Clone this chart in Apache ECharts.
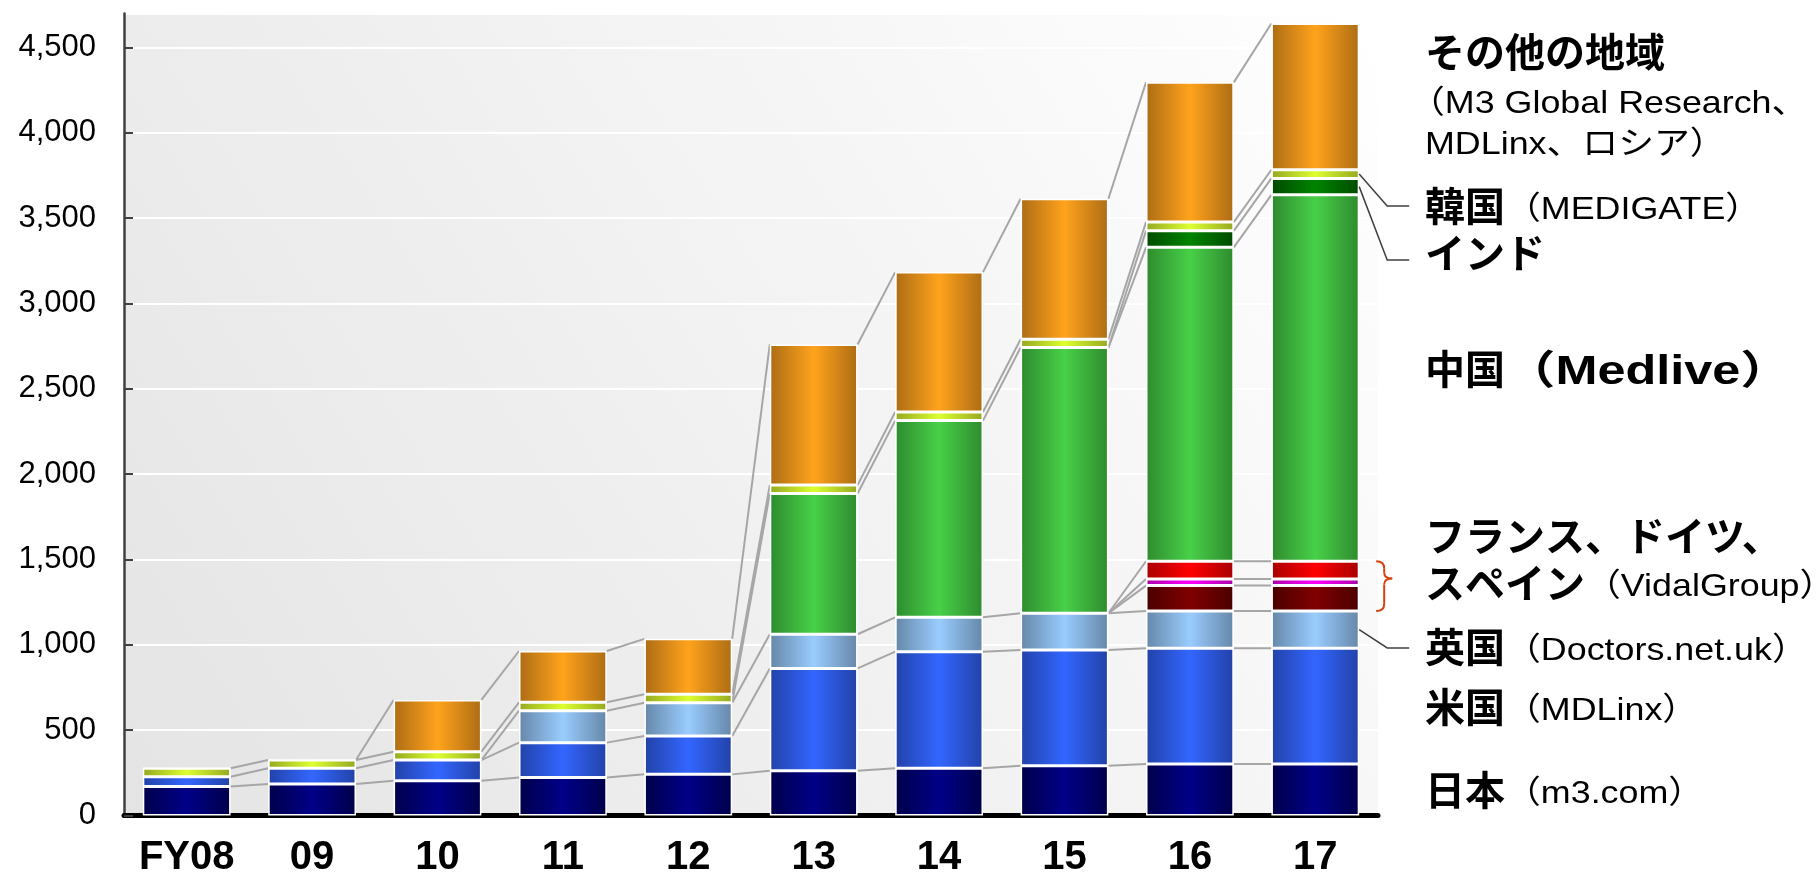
<!DOCTYPE html>
<html>
<head>
<meta charset="utf-8">
<script src="https://cdn.jsdelivr.net/npm/echarts@6/dist/echarts.min.js"></script>
<style>
html,body{margin:0;padding:0;background:#fff;}
#c{width:1820px;height:873px;}
</style>
</head>
<body>
<div id="c"></div>
<script>
// ---- data ----
const categories = ['FY08','09','10','11','12','13','14','15','16','17'];
const japan      = [170, 185, 204, 222, 241, 262, 277, 292, 302, 302];
const usa        = [57,  92,  121, 205, 225, 600, 683, 678, 678, 678];
const uk         = [0,   0,   0,   187, 195, 200, 201, 215, 219, 219];
const vidalDark  = [0,   0,   0,   0,   0,   0,   0,   0,   148, 148];
const vidalMag   = [0,   0,   0,   0,   0,   0,   0,   0,   39,  39];
const vidalRed   = [0,   0,   0,   0,   0,   0,   0,   0,   104, 104];
const china      = [0,   0,   0,   0,   0,   825, 1153,1557,1839,2147];
const india      = [0,   0,   0,   0,   0,   0,   0,   0,   97,  96];
const korea      = [50,  48,  49,  49,  49,  49,  50,  49,  51,  51];
const other      = [0,   0,   303, 301, 325, 824, 820, 823, 819, 857];
const yTicks = {min: 0, max: 4700, interval: 500};

// right-hand labels: pieces of bold (b) / normal (n) text
const labelLines = [
  {y: 56,  p: [['その他の地域', 'b']]},
  {y: 104, dx: -16, p: [['（M3 Global Research、', 'n']]},
  {y: 145, p: [['MDLinx、ロシア）', 'n']]},
  {y: 210, p: [['韓国', 'b'], ['（MEDIGATE）', 'n']]},
  {y: 257, p: [['インド', 'b']]},
  {y: 373, p: [['中国', 'b'], ['（Medlive）', 'bw']]},
  {y: 540, p: [['フランス、ドイツ、', 'b']]},
  {y: 587, p: [['スペイン', 'b'], ['（VidalGroup）', 'n']]},
  {y: 651, p: [['英国', 'b'], ['（Doctors.net.uk）', 'n']]},
  {y: 711, p: [['米国', 'b'], ['（MDLinx）', 'n']]},
  {y: 794, p: [['日本', 'b'], ['（m3.com）', 'n']]}
];

const layers = [
  {name: '日本（m3.com）', data: japan, edge: '#00004a', mid: '#000088'},
  {name: '米国（MDLinx）', data: usa, edge: '#2242a8', mid: '#3366ff'},
  {name: '英国（Doctors.net.uk）', data: uk, edge: '#6687a8', mid: '#99ccff'},
  {name: 'VidalGroup 1', data: vidalDark, edge: '#4a0000', mid: '#800000'},
  {name: 'VidalGroup 2', data: vidalMag, edge: '#a800a8', mid: '#ff00ff'},
  {name: 'VidalGroup 3', data: vidalRed, edge: '#a80000', mid: '#ff0000'},
  {name: '中国（Medlive）', data: china, edge: '#2e8b2e', mid: '#48d048'},
  {name: 'インド', data: india, edge: '#004a00', mid: '#008400'},
  {name: '韓国（MEDIGATE）', data: korea, edge: '#96a820', mid: '#dcff30'},
  {name: 'その他の地域', data: other, edge: '#ad6c14', mid: '#ffa31c'}
];

const FONT = "'Liberation Sans','Noto Sans CJK JP',sans-serif";
const STYLES = {
  b:  {font: 'bold 40px ' + FONT, sx: 1},
  bw: {font: 'bold 40px ' + FONT, sx: 1.26},
  n:  {font: '32px ' + FONT, sx: 1.12}
};
const chart = echarts.init(document.getElementById('c'), null, {renderer: 'canvas'});

// cumulative tops per layer
const cum = layers.map(() => []);
for (let i = 0; i < categories.length; i++) {
  let s = 0;
  layers.forEach((l, k) => { s += l.data[i]; cum[k][i] = s; });
}

function grad(e, m) {
  return new echarts.graphic.LinearGradient(0, 0, 1, 0, [
    {offset: 0, color: e}, {offset: 0.5, color: m}, {offset: 1, color: e}
  ]);
}

const BAR_FRAC = 0.7;

const barSeries = layers.map(l => ({
  type: 'bar', name: l.name, stack: 'total', data: l.data, barWidth: '70%',
  itemStyle: {color: grad(l.edge, l.mid), borderColor: '#ffffff', borderWidth: 1.5},
  z: 3
}));

const connectorSeries = {
  type: 'custom', name: 'connectors', z: 2,
  data: categories.slice(0, -1).map((c, i) => [i, 0]),
  renderItem: function (params, api) {
    const i = api.value(0);
    const bw = api.size([1, 0])[0] * BAR_FRAC;
    const children = [];
    const seen = {};
    for (let k = 0; k < layers.length; k++) {
      const a = cum[k][i], b = cum[k][i + 1];
      const key = a + '_' + b;
      if (seen[key]) continue;
      seen[key] = 1;
      const p1 = api.coord([i, a]);
      const p2 = api.coord([i + 1, b]);
      children.push({
        type: 'line',
        shape: {x1: p1[0] + bw / 2, y1: p1[1], x2: p2[0] - bw / 2, y2: p2[1]},
        style: {stroke: '#a6a6a6', lineWidth: 2}
      });
    }
    return {type: 'group', children: children};
  }
};

const last = categories.length - 1;
const annotationSeries = {
  type: 'custom', name: 'annotations', z: 4, clip: false,
  data: [[last, 0]],
  renderItem: function (params, api) {
    const bw = api.size([1, 0])[0] * BAR_FRAC;
    const xr = api.coord([last, 0])[0] + bw / 2;
    const yOf = v => api.coord([last, v])[1];
    const kKorea = 8, kIndia = 7, kUK = 2, kRed = 5;
    const yK = yOf((cum[kKorea][last] + cum[kKorea - 1][last]) / 2);
    const yI = yOf((cum[kIndia][last] + cum[kIndia - 1][last]) / 2);
    const yU = yOf((cum[kUK][last] + cum[kUK - 1][last]) / 2);
    const ln = {stroke: '#404040', lineWidth: 1.5, fill: null};
    const children = [
      {type: 'polyline', shape: {points: [[xr, yK], [xr + 28, 206], [xr + 50, 206]]}, style: ln},
      {type: 'polyline', shape: {points: [[xr, yI], [xr + 28, 260], [xr + 50, 260]]}, style: ln},
      {type: 'polyline', shape: {points: [[xr, yU], [xr + 28, 648], [xr + 50, 648]]}, style: ln}
    ];
    // brace spanning the VidalGroup segments
    const yT = yOf(cum[kRed][last]);
    const yB = yOf(cum[kUK][last]);
    const yM = yT + (yB - yT) * 0.35;
    const x0 = xr + 17, xv = x0 + 8, xt = x0 + 16;
    const bs = {stroke: '#d6400c', lineWidth: 2, fill: null};
    children.push(
      {type: 'bezierCurve', shape: {x1: x0, y1: yT, x2: xv, y2: yT + 7, cpx1: xv, cpy1: yT}, style: bs},
      {type: 'line', shape: {x1: xv, y1: yT + 7, x2: xv, y2: yM - 6}, style: bs},
      {type: 'bezierCurve', shape: {x1: xv, y1: yM - 6, x2: xt, y2: yM, cpx1: xv, cpy1: yM}, style: bs},
      {type: 'bezierCurve', shape: {x1: xt, y1: yM, x2: xv, y2: yM + 6, cpx1: xv, cpy1: yM}, style: bs},
      {type: 'line', shape: {x1: xv, y1: yM + 6, x2: xv, y2: yB - 7}, style: bs},
      {type: 'bezierCurve', shape: {x1: xv, y1: yB - 7, x2: x0, y2: yB, cpx1: xv, cpy1: yB}, style: bs}
    );
    return {type: 'group', children: children};
  }
};

// text measuring for laying out the label pieces
const mctx = document.createElement('canvas').getContext('2d');
function measure(t, font) { mctx.font = font; return mctx.measureText(t).width; }

const graphicEls = [];
labelLines.forEach(l => {
  let x = 1425 + (l.dx || 0);
  l.p.forEach(([t, w]) => {
    const st = STYLES[w];
    graphicEls.push({
      type: 'text', x: x, y: l.y, scaleX: st.sx, z: 10,
      style: {text: t, font: st.font, fill: '#000', verticalAlign: 'middle', align: 'left'}
    });
    x += measure(t, st.font) * st.sx;
  });
});

chart.setOption({
  animation: false,
  backgroundColor: '#ffffff',
  grid: {
    left: 124, right: 442, top: 13.4, bottom: 57.5, show: true, borderWidth: 0,
    containLabel: false, outerBoundsMode: 'none',
    backgroundColor: new echarts.graphic.LinearGradient(0, 1, 1, 0, [
      {offset: 0, color: '#e4e4e4'}, {offset: 1, color: '#ffffff'}
    ])
  },
  xAxis: {
    type: 'category', data: categories,
    axisLine: {lineStyle: {color: '#000', width: 5}},
    axisTick: {show: false},
    axisLabel: {fontSize: 40, fontWeight: 'bold', color: '#000', margin: 22, fontFamily: FONT}
  },
  yAxis: {
    type: 'value', min: yTicks.min, max: yTicks.max, interval: yTicks.interval,
    axisLine: {show: true, lineStyle: {color: '#404040', width: 2.5}},
    axisTick: {show: true, inside: true, length: 9, lineStyle: {color: '#404040', width: 2}},
    axisLabel: {
      fontSize: 31, color: '#000', margin: 28, fontFamily: FONT, showMaxLabel: false,
      formatter: v => String(v).replace(/\B(?=(\d{3})+(?!\d))/g, ',')
    },
    splitLine: {show: true, lineStyle: {color: '#ffffff', width: 2}}
  },
  graphic: graphicEls,
  series: [connectorSeries].concat(barSeries).concat([annotationSeries])
});
</script>
</body>
</html>
